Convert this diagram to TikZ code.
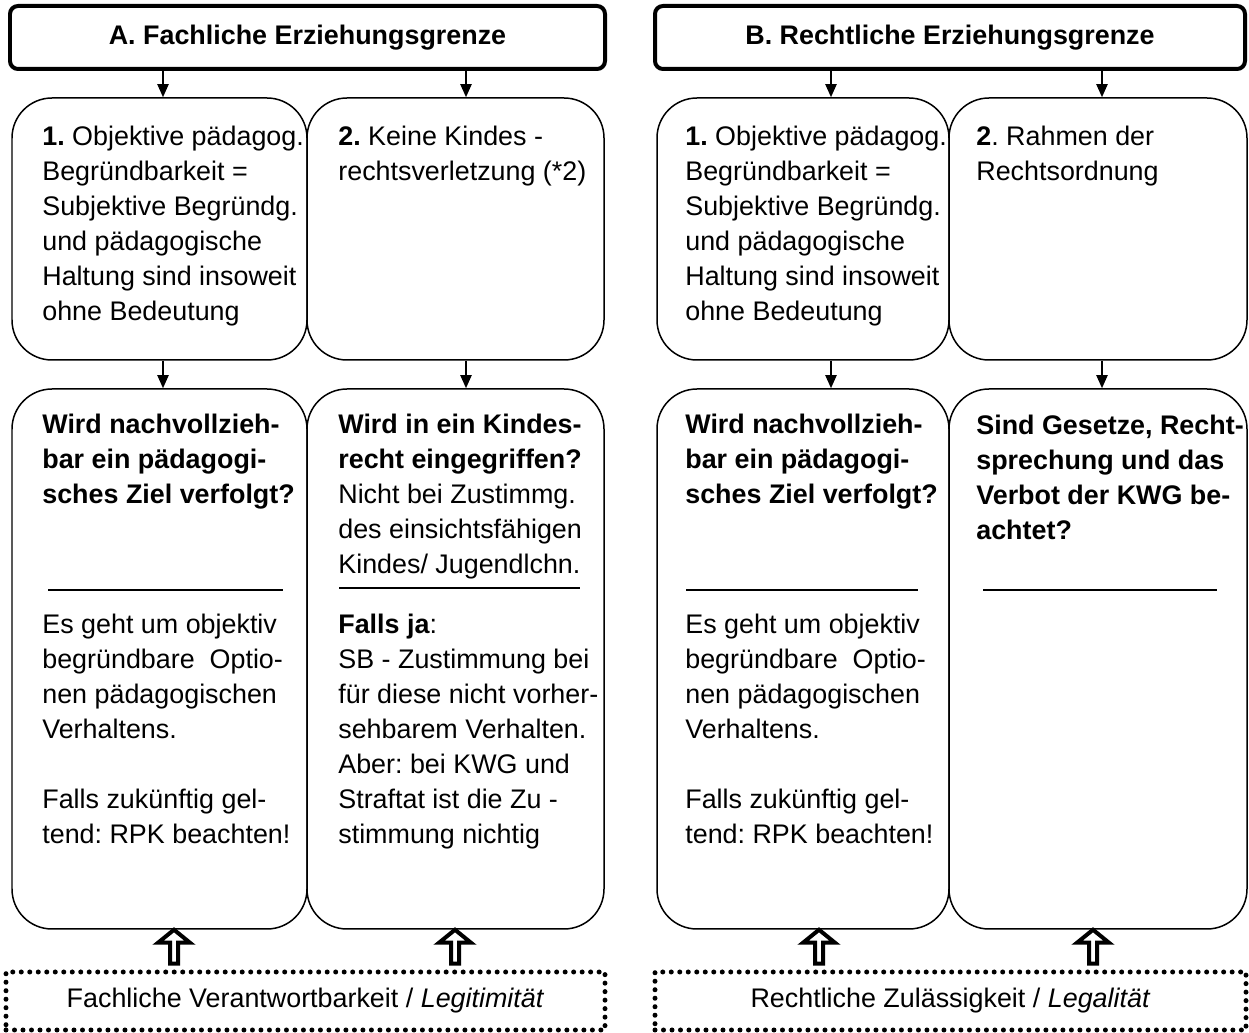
\documentclass[tikz,border=0pt]{standalone}
\usepackage{fontspec}
\setmainfont{Liberation Sans}
\usetikzlibrary{arrows.meta,fit,calc}
\frenchspacing

\tikzset{
	every node/.style={font=\fontsize{15.3}{19.9}\selectfont},
	kopf/.style={draw, line width=0.08cm, rounded corners=0.16cm, inner sep=0pt},
	feld/.style={draw, line width=0.03cm, rounded corners=0.8cm, inner sep=0pt},
	fuss/.style={draw, line width=0.1cm, line cap=round, dash pattern=on 0pt off 0.17cm, inner sep=0pt},
	txt/.style={anchor=north west, inner sep=0pt, align=left},
	txtb/.style={txt, font=\fontsize{15.3}{19.9}\selectfont\bfseries},
	pfeil/.style={line width=0.04cm, -{Triangle[length=0.26cm, width=0.22cm]}},
	hohl/.style={line width=0.08cm, line join=miter, fill=white},
	linie/.style={line width=0.03cm},
}

\begin{document}
\begin{tikzpicture}[x=0.02cm, y=-0.02cm]
			%%%%% START %%%%%
			\useasboundingbox (0,0) rectangle (1249,1033);
			
			\coordinate (s1) at (163,0);
			\coordinate (s2) at (466,0);
			\coordinate (s3) at (831,0);
			\coordinate (s4) at (1102,0);
			\coordinate (h1) at (174,0);
			\coordinate (h2) at (455,0);
			\coordinate (h3) at (819,0);
			\coordinate (h4) at (1093,0);
			
			%%%%% A %%%%%
			\node[kopf, fit={(10,6) (605,69)}] (ka) {};
			\node[font=\fontsize{15.3}{19.9}\selectfont\bfseries] (kat) at (ka.center) {A. Fachliche Erziehungsgrenze};
			
			\node[feld, fit={(12,98) (307,360)}] (a1) {};
			\node[feld, fit={(307,98) (604,360)}] (a2) {};
			\node[feld, fit={(12,389) (307,929)}] (a3) {};
			\node[feld, fit={(307,389) (604,929)}] (a4) {};
			
			\node[txt] (ta1) at (42,126) {\textbf{1.} Objektive pädagog.\\ Begründbarkeit =\\ Subjektive Begründg.\\ und pädagogische\\ Haltung sind insoweit\\ ohne Bedeutung};
			\node[txt] (ta2) at (338,126) {\textbf{2.} Keine Kindes -\\ rechtsverletzung (*2)};
			
			\node[txtb] (ta3) at (42,414) {Wird nachvollzieh-\\ bar ein pädagogi-\\ sches Ziel verfolgt?};
			\draw[linie] (48,590) -- (283,590);
			\node[txt] (ta3u) at (42,614) {Es geht um objektiv\\ begründbare\ \ Optio-\\ nen pädagogischen\\ Verhaltens.\\[0.7cm] Falls zukünftig gel-\\ tend: RPK beachten!};
			
			\node[txt] (ta4) at (338,414) {\textbf{Wird in ein Kindes-}\\ \textbf{recht eingegriffen?}\\ Nicht bei Zustimmg.\\ des einsichtsfähigen\\ Kindes/ Jugendlchn.};
			\draw[linie] (339,588) -- (580,588);
			\node[txt] (ta4u) at (338,614) {\textbf{Falls ja}:\\ SB - Zustimmung bei\\ für diese nicht vorher-\\ sehbarem Verhalten.\\ Aber: bei KWG und\\ Straftat ist die Zu -\\ stimmung nichtig};
			
			\node[fuss, fit={(6,972) (605,1030)}] (fa) {};
			\node (fat) at (fa.center) {Fachliche Verantwortbarkeit / \textit{Legitimität}};
			
			\draw[pfeil] (ka.south -| s1) -- (a1.north -| s1);
			\draw[pfeil] (ka.south -| s2) -- (a2.north -| s2);
			\draw[pfeil] (a1.south -| s1) -- (a3.north -| s1);
			\draw[pfeil] (a2.south -| s2) -- (a4.north -| s2);
			
			\draw[hohl, shift={(a3.south -| h1)}] (0,0) -- (16,13) -- (4,13) -- (4,34) -- (-4,34) -- (-4,13) -- (-16,13) -- cycle;
			\draw[hohl, shift={(a4.south -| h2)}] (0,0) -- (16,13) -- (4,13) -- (4,34) -- (-4,34) -- (-4,13) -- (-16,13) -- cycle;
			
			%%%%% B %%%%%
			\node[kopf, fit={(655,6) (1245,69)}] (kb) {};
			\node[font=\fontsize{15.3}{19.9}\selectfont\bfseries] (kbt) at (kb.center) {B. Rechtliche Erziehungsgrenze};
			
			\node[feld, fit={(657,98) (949,360)}] (b1) {};
			\node[feld, fit={(949,98) (1247,360)}] (b2) {};
			\node[feld, fit={(657,389) (949,929)}] (b3) {};
			\node[feld, fit={(949,389) (1247,929)}] (b4) {};
			
			\node[txt] (tb1) at (685,126) {\textbf{1.} Objektive pädagog.\\ Begründbarkeit =\\ Subjektive Begründg.\\ und pädagogische\\ Haltung sind insoweit\\ ohne Bedeutung};
			\node[txt] (tb2) at (976,126) {\textbf{2}. Rahmen der\\ Rechtsordnung};
			
			\node[txtb] (tb3) at (685,414) {Wird nachvollzieh-\\ bar ein pädagogi-\\ sches Ziel verfolgt?};
			\draw[linie] (686,590) -- (918,590);
			\node[txt] (tb3u) at (685,614) {Es geht um objektiv\\ begründbare\ \ Optio-\\ nen pädagogischen\\ Verhaltens.\\[0.7cm] Falls zukünftig gel-\\ tend: RPK beachten!};
			
			\node[txtb] (tb4) at (976,415) {Sind Gesetze, Recht-\\ sprechung und das\\ Verbot der KWG be-\\ achtet?};
			\draw[linie] (983,590) -- (1217,590);
			
			\node[fuss, fit={(655,972) (1246,1030)}] (fb) {};
			\node (fbt) at (fb.center) {Rechtliche Zulässigkeit / \textit{Legalität}};
			
			\draw[pfeil] (kb.south -| s3) -- (b1.north -| s3);
			\draw[pfeil] (kb.south -| s4) -- (b2.north -| s4);
			\draw[pfeil] (b1.south -| s3) -- (b3.north -| s3);
			\draw[pfeil] (b2.south -| s4) -- (b4.north -| s4);
			
			\draw[hohl, shift={(b3.south -| h3)}] (0,0) -- (16,13) -- (4,13) -- (4,34) -- (-4,34) -- (-4,13) -- (-16,13) -- cycle;
			\draw[hohl, shift={(b4.south -| h4)}] (0,0) -- (16,13) -- (4,13) -- (4,34) -- (-4,34) -- (-4,13) -- (-16,13) -- cycle;
			
			%%%%% END %%%%%
\end{tikzpicture}
\end{document}
